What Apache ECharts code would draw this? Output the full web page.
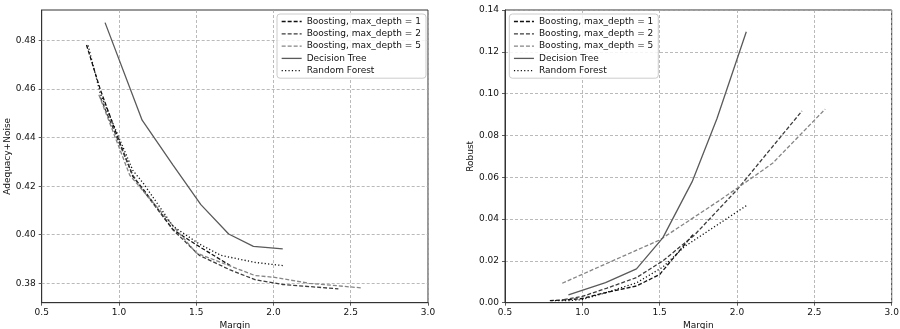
<!DOCTYPE html>
<html><head><meta charset="utf-8">
<script src="https://cdn.jsdelivr.net/npm/echarts@6/dist/echarts.min.js"></script>
<style>html,body{margin:0;padding:0;background:#fff}#c{width:900px;height:329px}</style>
</head><body><div id="c"></div>
<script>
const seriesNames = ['Boosting, max_depth = 1', 'Boosting, max_depth = 2', 'Boosting, max_depth = 5', 'Decision Tree', 'Random Forest'];
const xTicks = [0.5, 1.0, 1.5, 2.0, 2.5, 3.0];
const leftYTicks = [0.38, 0.40, 0.42, 0.44, 0.46, 0.48];
const rightYTicks = [0.00, 0.02, 0.04, 0.06, 0.08, 0.10, 0.12, 0.14];

// Left panel: Adequacy+Noise vs Margin
const b1X_L = [0.79, 0.88, 0.99, 1.09, 1.16, 1.35, 1.50, 1.72];
const b1Y_L = [0.4782, 0.4597, 0.4405, 0.4240, 0.4185, 0.4021, 0.3959, 0.3873];
const b2X_L = [0.88, 0.99, 1.09, 1.16, 1.35, 1.52, 1.72, 1.88, 2.06, 2.20, 2.42];
const b2Y_L = [0.4565, 0.4395, 0.4245, 0.4180, 0.4020, 0.3915, 0.3855, 0.3815, 0.3795, 0.3788, 0.3777];
const b5X_L = [0.87, 1.07, 1.50, 1.88, 2.00, 2.23, 2.57];
const b5Y_L = [0.4577, 0.4245, 0.3925, 0.3832, 0.3825, 0.3800, 0.3781];
const dtX_L = [0.91, 1.15, 1.35, 1.53, 1.71, 1.87, 2.06];
const dtY_L = [0.4874, 0.4472, 0.4287, 0.4124, 0.4003, 0.3952, 0.3942];
const rfX_L = [0.80, 0.88, 0.99, 1.09, 1.16, 1.35, 1.52, 1.66, 1.88, 2.06];
const rfY_L = [0.4780, 0.4580, 0.4415, 0.4265, 0.4210, 0.4035, 0.3962, 0.3915, 0.3886, 0.3873];

// Right panel: Robust vs Margin
const b1X_R = [0.79, 0.92, 1.00, 1.16, 1.35, 1.50, 1.72];
const b1Y_R = [0.0010, 0.0015, 0.0020, 0.0050, 0.0080, 0.0135, 0.0330];
const b2X_R = [0.88, 1.00, 1.16, 1.35, 1.52, 1.72, 2.00, 2.20, 2.42];
const b2Y_R = [0.0015, 0.0030, 0.0070, 0.0120, 0.0200, 0.0320, 0.0540, 0.0720, 0.0917];
const b5X_R = [0.87, 1.07, 1.50, 1.88, 2.00, 2.23, 2.57];
const b5Y_R = [0.0093, 0.0159, 0.0300, 0.0486, 0.0547, 0.0667, 0.0926];
const dtX_R = [0.91, 1.15, 1.35, 1.52, 1.71, 1.87, 2.06];
const dtY_R = [0.0037, 0.0096, 0.0162, 0.0310, 0.0579, 0.0880, 0.1296];
const rfX_R = [0.80, 0.92, 1.00, 1.16, 1.35, 1.52, 1.66, 2.06];
const rfY_R = [0.0010, 0.0010, 0.0015, 0.0050, 0.0095, 0.0170, 0.0268, 0.0464];

const FONT = 'DejaVu Sans';
const styles = [
  {color: '#111111', type: [4, 2]},
  {color: '#3c3c3c', type: [4, 2]},
  {color: '#858585', type: [4, 2]},
  {color: '#5a5a5a', type: 'solid'},
  {color: '#111111', type: [1.2, 2.2]}
];
const zip = (xs, ys) => xs.map((x, i) => [x, ys[i]]);
const leftData = [zip(b1X_L, b1Y_L), zip(b2X_L, b2Y_L), zip(b5X_L, b5Y_L), zip(dtX_L, dtY_L), zip(rfX_L, rfY_L)];
const rightData = [zip(b1X_R, b1Y_R), zip(b2X_R, b2Y_R), zip(b5X_R, b5Y_R), zip(dtX_R, dtY_R), zip(rfX_R, rfY_R)];

const gridLine = {show: true, lineStyle: {color: '#a8a8a8', type: [3, 2], width: 0.8}};
const axisLineStyle = {show: true, lineStyle: {color: '#333', width: 1}};
const tickStyle = {show: true, length: 3, inside: false, lineStyle: {color: '#333', width: 0.8}};
const labelText = {fontFamily: FONT, fontSize: 9, color: '#111'};

function xAxis(gi) {
  return {
    type: 'value', gridIndex: gi, min: 0.5, max: 3.0, interval: 0.5,
    name: 'Margin', nameLocation: 'middle', nameGap: 17,
    nameTextStyle: {fontFamily: FONT, fontSize: 9, color: '#111'},
    axisLine: axisLineStyle, axisTick: tickStyle, splitLine: gridLine,
    axisLabel: Object.assign({margin: 5, formatter: v => v.toFixed(1)}, labelText)
  };
}

const series = [];
leftData.forEach((d, i) => series.push({
  name: seriesNames[i], type: 'line', xAxisIndex: 0, yAxisIndex: 0, data: d,
  symbol: 'none', z: 3, lineStyle: {color: styles[i].color, type: styles[i].type, width: 1.3},
  itemStyle: {color: styles[i].color}
}));
rightData.forEach((d, i) => series.push({
  name: seriesNames[i], type: 'line', xAxisIndex: 1, yAxisIndex: 1, data: d,
  symbol: 'none', z: 3, lineStyle: {color: styles[i].color, type: styles[i].type, width: 1.3},
  itemStyle: {color: styles[i].color}
}));
series.push({
  name: '_grid', type: 'line', xAxisIndex: 0, yAxisIndex: 0, data: [], z: 1, silent: true,
  markLine: {silent: true, symbol: 'none', z: 1, animation: false, label: {show: false},
    lineStyle: {color: '#a8a8a8', type: [3, 2], width: 0.8},
    data: leftYTicks.map(v => ({yAxis: v}))}
});

function legend(left) {
  return {
    data: seriesNames, orient: 'vertical', left: left, top: 14,
    padding: [3, 5, 3, 4], itemWidth: 20, itemHeight: 10, itemGap: 3.3,
    itemStyle: {opacity: 0, borderWidth: 0},
    lineStyle: {width: 1.3},
    textStyle: {fontFamily: FONT, fontSize: 9, color: '#111'},
    backgroundColor: 'rgba(255,255,255,0.85)', borderColor: '#cccccc', borderWidth: 1, borderRadius: 3,
    selectedMode: false
  };
}

const chart = echarts.init(document.getElementById('c'), null, {renderer: 'canvas'});
chart.setOption({
  animation: false,
  backgroundColor: '#ffffff',
  grid: [
    {left: 41.7, top: 10, width: 386.3, height: 292.7, show: true, borderColor: '#333', borderWidth: 1, backgroundColor: 'transparent', containLabel: false, outerBoundsMode: 'none'},
    {left: 505, top: 10, width: 386.7, height: 292.7, show: true, borderColor: '#333', borderWidth: 1, backgroundColor: 'transparent', containLabel: false, outerBoundsMode: 'none'}
  ],
  xAxis: [xAxis(0), xAxis(1)],
  yAxis: [
    {type: 'value', gridIndex: 0, min: 0.372, max: 0.4926,
     name: 'Adequacy+Noise', nameLocation: 'middle', nameGap: 29, nameRotate: 90,
     nameTextStyle: {fontFamily: FONT, fontSize: 9, color: '#111'},
     axisLine: axisLineStyle, splitLine: {show: false},
     axisTick: Object.assign({customValues: leftYTicks}, tickStyle),
     axisLabel: Object.assign({margin: 6, customValues: leftYTicks, formatter: v => v.toFixed(2)}, labelText)},
    {type: 'value', gridIndex: 1, min: 0, max: 0.14, interval: 0.02,
     name: 'Robust', nameLocation: 'middle', nameGap: 29, nameRotate: 90,
     nameTextStyle: {fontFamily: FONT, fontSize: 9, color: '#111'},
     axisLine: axisLineStyle, splitLine: gridLine, axisTick: tickStyle,
     axisLabel: Object.assign({margin: 6, formatter: v => v.toFixed(2)}, labelText)}
  ],
  legend: [legend(277), legend(509.3)],
  series: series
});
</script>
</body></html>
